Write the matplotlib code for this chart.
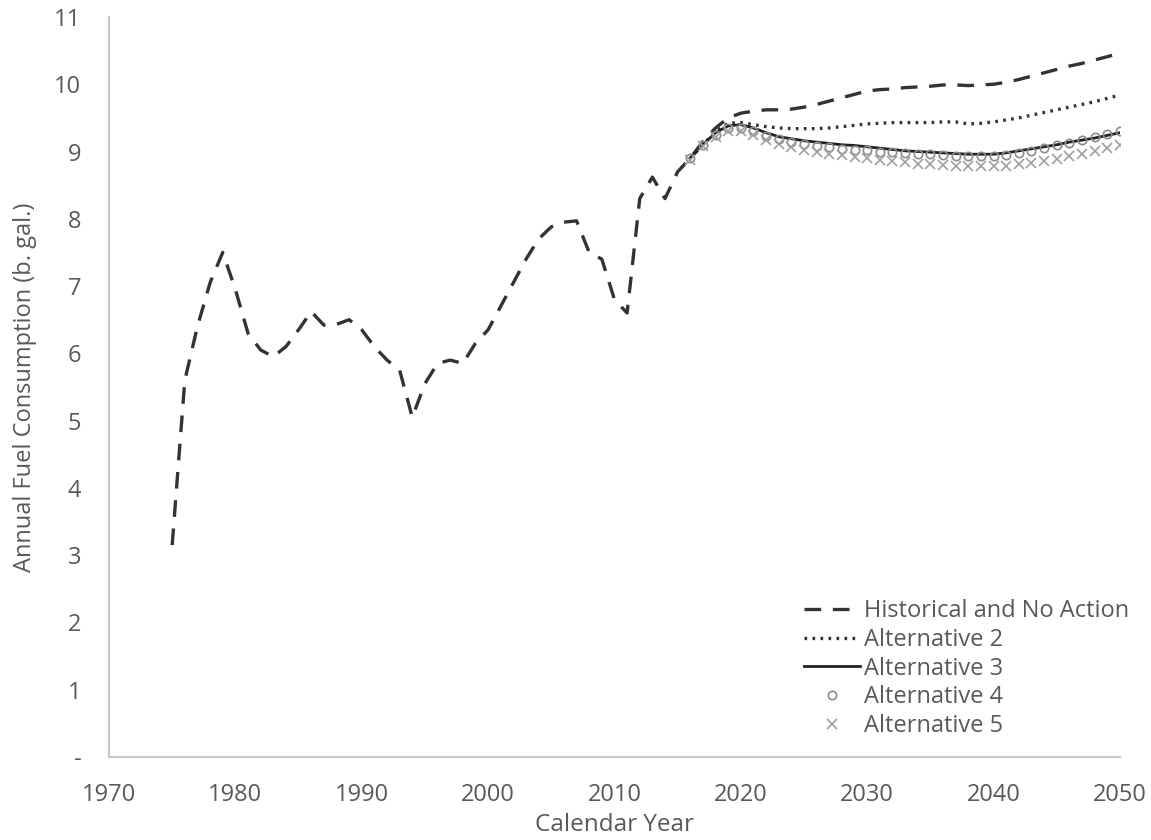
import numpy as np
import matplotlib.pyplot as plt

# historical + no action
hist_years = list(range(1975, 2051))
hist_vals = [3.15, 5.6, 6.4, 7.05, 7.5, 6.95, 6.3, 6.05, 5.95, 6.1,
             6.35, 6.62, 6.42, 6.43, 6.5, 6.35, 6.1, 5.9, 5.75, 5.05,
             5.55, 5.85, 5.9, 5.85, 6.15, 6.35, 6.7, 7.05, 7.4, 7.7,
             7.88, 7.95, 7.97, 7.5, 7.4, 6.8, 6.6, 8.3, 8.62, 8.3,
             8.7, 8.9, 9.15, 9.35, 9.5, 9.57, 9.6, 9.62, 9.62, 9.63,
             9.66, 9.7, 9.75, 9.8, 9.85, 9.9, 9.92, 9.93, 9.95, 9.96,
             9.97, 9.99, 9.99, 9.98, 9.99, 10.0, 10.03, 10.07, 10.12, 10.17,
             10.22, 10.27, 10.31, 10.36, 10.41, 10.46]

alt_years = list(range(2016, 2051))
alt2 = [8.9, 9.1, 9.3, 9.42, 9.43, 9.4, 9.37, 9.35, 9.34, 9.34,
        9.34, 9.35, 9.37, 9.39, 9.41, 9.42, 9.43, 9.43, 9.43, 9.43,
        9.44, 9.44, 9.41, 9.42, 9.44, 9.47, 9.5, 9.54, 9.58, 9.62,
        9.66, 9.7, 9.74, 9.79, 9.84]
alt3 = [8.9, 9.1, 9.28, 9.38, 9.4, 9.35, 9.28, 9.22, 9.19, 9.16,
        9.14, 9.12, 9.1, 9.09, 9.07, 9.05, 9.03, 9.01, 9.0, 8.99,
        8.98, 8.97, 8.96, 8.96, 8.96, 8.98, 9.01, 9.04, 9.07, 9.1,
        9.14, 9.17, 9.2, 9.24, 9.28]
alt4 = [8.9, 9.1, 9.25, 9.35, 9.35, 9.3, 9.23, 9.18, 9.14, 9.11,
        9.08, 9.06, 9.04, 9.03, 9.02, 9.0, 8.99, 8.98, 8.97, 8.96,
        8.95, 8.94, 8.93, 8.93, 8.93, 8.95, 8.98, 9.01, 9.05, 9.09,
        9.13, 9.17, 9.21, 9.26, 9.3]
alt5 = [8.88, 9.08, 9.22, 9.3, 9.3, 9.24, 9.17, 9.11, 9.07, 9.03,
        9.0, 8.97, 8.95, 8.92, 8.9, 8.88, 8.86, 8.84, 8.82, 8.81,
        8.8, 8.79, 8.78, 8.78, 8.78, 8.79, 8.81, 8.83, 8.86, 8.89,
        8.93, 8.97, 9.01, 9.05, 9.1]

x_ticks = list(range(1970, 2051, 10))
y_ticks = list(range(0, 12))
y_labels = ['-'] + [str(v) for v in y_ticks[1:]]

txt = '#595959'
plt.rcParams['font.family'] = ['Open Sans', 'DejaVu Sans']

fig = plt.figure(figsize=(11.51, 8.4), dpi=100)
ax = fig.add_axes([0.0947, 0.0988, 0.8783, 0.881])

ax.plot(hist_years, hist_vals, color='#333333', lw=2.4, ls=(0, (5, 3.5)),
        label='Historical and No Action')
ax.plot(alt_years, alt2, color='#333333', lw=2.4, ls=(0, (0.8, 1.6)),
        label='Alternative 2')
ax.plot(alt_years, alt3, color='#222222', lw=2.0, label='Alternative 3')
ax.plot(alt_years, alt4, ls='none', marker='o', ms=6, mfc='none',
        mec='#8c8c8c', mew=1.2, label='Alternative 4')
ax.plot(alt_years, alt5, ls='none', marker='x', ms=7, mec='#a0a0a0',
        mew=1.2, label='Alternative 5')

ax.set_xlim(1970, 2050)
ax.set_ylim(0, 11)
ax.set_xticks(x_ticks)
ax.set_yticks(y_ticks)
ax.set_yticklabels(y_labels)
ax.tick_params(length=0, labelsize=17, labelcolor=txt)
ax.tick_params(axis='y', pad=20)
ax.tick_params(axis='x', pad=19)

for s in ['top', 'right']:
    ax.spines[s].set_visible(False)
for s in ['left', 'bottom']:
    ax.spines[s].set_color('#c8c8c8')
    ax.spines[s].set_linewidth(1.5)

narrow = ['Liberation Sans Narrow', 'Open Sans', 'DejaVu Sans']
ax.set_xlabel('Calendar Year', fontsize=17.5, color=txt, family=narrow, labelpad=4)
ax.set_ylabel('Annual Fuel Consumption (b. gal.)', fontsize=17, color=txt,
              family=narrow, labelpad=12)

leg = ax.legend(loc='lower right', bbox_to_anchor=(1.03, -0.003), frameon=False,
                fontsize=17, handlelength=2.4, handletextpad=0.15,
                labelspacing=0.2, labelcolor=txt)

fig.savefig('out.png', dpi=100)
